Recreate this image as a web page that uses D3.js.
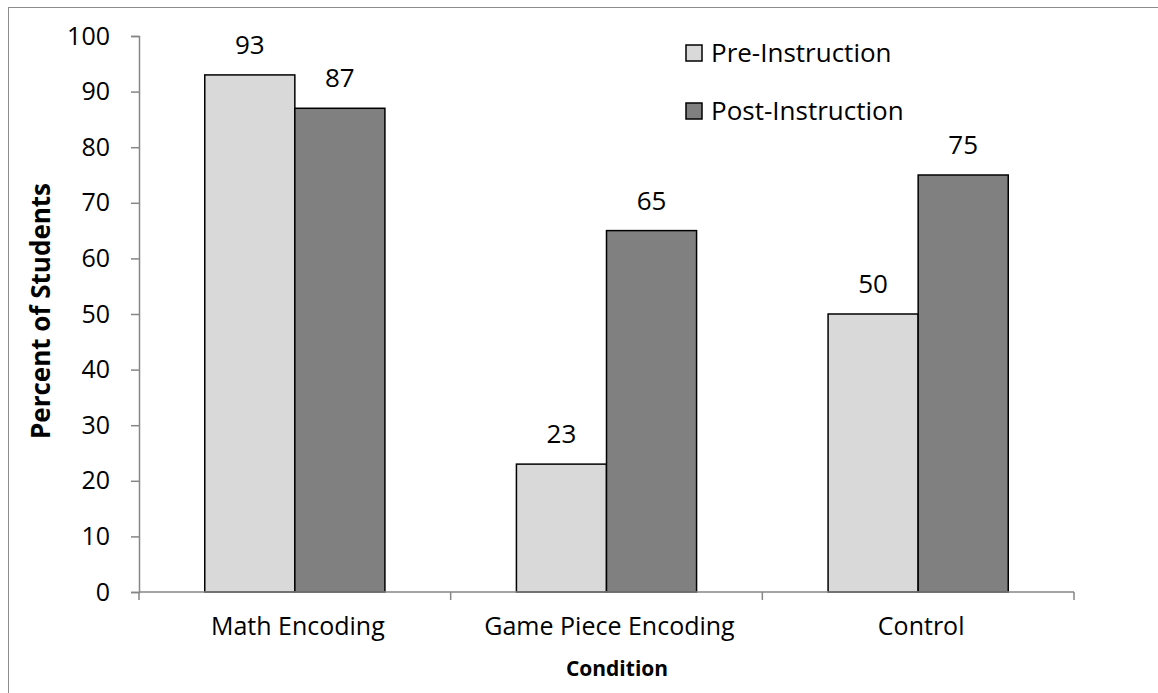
<!DOCTYPE html>
<html><head><meta charset="utf-8">
<script src="https://cdn.jsdelivr.net/npm/d3@7"></script>
<style>body{margin:0;background:#fff;} svg{display:block;font-family:"Open Sans",sans-serif;}</style>
</head><body><svg id="c" width="1158" height="693"></svg>
<script>
const categories = ["Math Encoding", "Game Piece Encoding", "Control"];
const seriesNames = ["Pre-Instruction", "Post-Instruction"];
const preValues = [93, 23, 50];
const postValues = [87, 65, 75];
const yTicks = [0, 10, 20, 30, 40, 50, 60, 70, 80, 90, 100];
const colors = ["#d9d9d9", "#808080"];

const svg = d3.select("#c");
const m = {l: 139, r: 1074, t: 36, b: 592};

svg.append("rect").attr("x", 8.5).attr("y", 7.5).attr("width", 1160).attr("height", 700)
  .attr("fill", "none").attr("stroke", "#8c8c8c").attr("stroke-width", 1);

const x = d3.scaleBand().domain(categories).range([m.l, m.r]).paddingInner(0).paddingOuter(0);
const xs = d3.scaleBand().domain(seriesNames).range([0, x.bandwidth()]).paddingInner(0).paddingOuter(0.73);
const y = d3.scaleLinear().domain([0, 100]).range([m.b, m.t]);

const data = categories.map((c, i) => ({c, vals: [preValues[i], postValues[i]]}));

// bars
const g = svg.append("g");
data.forEach(d => {
  d.vals.forEach((v, j) => {
    const bx = x(d.c) + xs(seriesNames[j]);
    g.append("rect").attr("x", bx).attr("y", y(v)).attr("width", xs.bandwidth()).attr("height", y(0) - y(v))
      .attr("fill", colors[j]).attr("stroke", "#000").attr("stroke-width", 1.5);
    g.append("text").attr("x", bx + xs.bandwidth() / 2).attr("y", y(v) - 21)
      .attr("text-anchor", "middle").attr("font-size", 26).attr("fill", "#000").text(v);
  });
});

// y axis
const yAxis = svg.append("g").attr("transform", `translate(${m.l},0)`)
  .call(d3.axisLeft(y).tickValues(yTicks).tickSize(8).tickPadding(21));
yAxis.select(".domain").attr("stroke", "#868686").attr("stroke-width", 1.5);
yAxis.selectAll(".tick line").attr("stroke", "#868686").attr("stroke-width", 1.5);
yAxis.selectAll(".tick text").attr("font-size", 25).attr("fill", "#000").attr("font-family", "Open Sans");

// x axis
const xAxis = svg.append("g").attr("transform", `translate(0,${m.b})`);
xAxis.append("line").attr("x1", m.l).attr("x2", m.r).attr("y1", 0).attr("y2", 0)
  .attr("stroke", "#868686").attr("stroke-width", 1.5);
const boundaries = categories.map(c => x(c)).concat([m.r]);
xAxis.selectAll("line.tk").data(boundaries).join("line").attr("class", "tk")
  .attr("x1", d => d).attr("x2", d => d).attr("y1", 0).attr("y2", 8)
  .attr("stroke", "#868686").attr("stroke-width", 1.5);
xAxis.selectAll("text.cl").data(categories).join("text").attr("class", "cl")
  .attr("x", d => x(d) + x.bandwidth() / 2 + 3).attr("y", 43)
  .attr("text-anchor", "middle").attr("font-size", 25).attr("fill", "#000").text(d => d);

// axis titles
svg.append("text").attr("x", 617).attr("y", 676).attr("text-anchor", "middle")
  .attr("font-size", 21).attr("font-weight", "bold").text("Condition");
svg.append("text").attr("transform", `translate(50,311) rotate(-90)`)
  .attr("text-anchor", "middle").attr("font-size", 26).attr("font-weight", "bold").text("Percent of Students");

// legend
const leg = svg.append("g");
seriesNames.forEach((s, i) => {
  const ly = 53 + i * 58;
  leg.append("rect").attr("x", 686).attr("y", ly - 8).attr("width", 16).attr("height", 16)
    .attr("fill", colors[i]).attr("stroke", "#000").attr("stroke-width", 1.5);
  leg.append("text").attr("x", 711).attr("y", ly + 9).attr("font-size", 26).attr("fill", "#000").text(s);
});
</script></body></html>
